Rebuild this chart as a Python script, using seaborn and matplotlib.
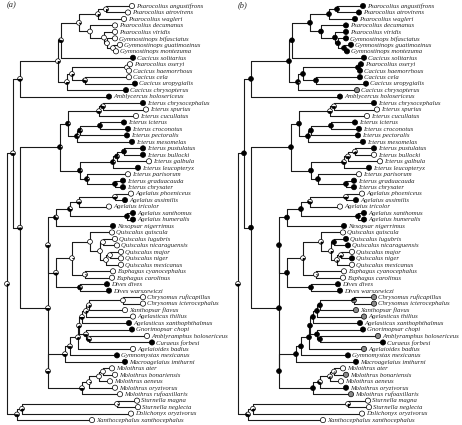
import numpy as np
import pandas as pd
import seaborn as sns
import matplotlib.pyplot as plt
from matplotlib.patches import Wedge
from matplotlib.transforms import ScaledTranslation

sns.set_style("white")
plt.rcParams["font.family"] = ["Liberation Serif", "DejaVu Serif"]

# tip names, top to bottom
tips = [
    "Psarocolius angustifrons", "Psarocolius atrovirens", "Psarocolius wagleri",
    "Psarocolius decumanus", "Psarocolius viridis", "Gymnostinops bifasciatus",
    "Gymnostinops guatimozinus", "Gymnostinops montezuma", "Cacicus solitarius",
    "Psarocolius oseryi", "Cacicus haemorrhous", "Cacicus cela", "Cacicus uropygialis",
    "Cacicus chrysopterus", "Amblycercus holosericeus", "Icterus chrysocephalus",
    "Icterus spurius", "Icterus cucullatus", "Icterus icterus", "Icterus croconotus",
    "Icterus pectoralis", "Icterus mesomelas", "Icterus pustulatus", "Icterus bullocki",
    "Icterus galbula", "Icterus leucopteryx", "Icterus parisorum", "Icterus graduacauda",
    "Icterus chrysater", "Agelaius phoeniceus", "Agelaius assimilis", "Agelaius tricolor",
    "Agelaius xanthomus", "Agelaius humeralis", "Nesopsar nigerrimus", "Quiscalus quiscula",
    "Quiscalus lugubris", "Quiscalus nicaraguensis", "Quiscalus major", "Quiscalus niger",
    "Quiscalus mexicanus", "Euphagus cyanocephalus", "Euphagus carolinus", "Dives dives",
    "Dives warszewiczi", "Chrysomus ruficapillus", "Chrysomus icterocephalus",
    "Xanthopsar flavus", "Agelasticus thilius", "Agelasticus xanthophthalmus",
    "Gnorimopsar chopi", "Amblyramphus holosericeus", "Curaeus forbesi",
    "Agelaioides badius", "Gymnomystax mexicanus", "Macroagelaius imthurni",
    "Molothrus ater", "Molothrus bonariensis", "Molothrus aeneus", "Molothrus oryzivorus",
    "Molothrus rufoaxillaris", "Sturnella magna", "Sturnella neglecta",
    "Dolichonyx oryzivorus", "Xanthocephalus xanthocephalus",
]

# tip depth (branch length scale of the figure)
tip_x = [132, 128, 124, 115, 115, 115, 120, 116, 133, 130, 129, 129, 135, 126, 109,
         143, 146, 136, 124, 128, 127, 132, 143, 143, 149, 138, 128, 123, 123, 131,
         125, 109, 133, 133, 113, 112, 115, 117, 121, 121, 121, 113, 112, 107, 109,
         143, 143, 125, 133, 129, 132, 147, 152, 133, 117, 125, 112, 115, 110, 115,
         120, 137, 138, 131, 92]

# tip states: 0 absent, 1 present, 2 grey
state_a = [0, 0, 0, 0, 0, 0, 0, 0, 1, 0, 0, 0, 1, 1, 1, 1, 0, 0, 1, 1, 1, 1, 1, 1, 0,
           1, 0, 1, 1, 0, 1, 0, 1, 1, 1, 0, 0, 0, 0, 0, 0, 0, 0, 1, 1, 0, 0, 0, 0, 1,
           1, 0, 1, 0, 1, 1, 0, 0, 0, 0, 0, 0, 0, 0, 0]
state_b = [1, 1, 1, 1, 1, 1, 1, 1, 1, 1, 1, 1, 1, 2, 1, 1, 0, 0, 1, 1, 1, 1, 1, 0, 0,
           1, 0, 1, 1, 0, 1, 0, 1, 1, 1, 0, 1, 1, 0, 1, 0, 0, 0, 1, 1, 2, 2, 2, 2, 1,
           1, 2, 1, 2, 1, 1, 0, 2, 0, 1, 2, 0, 0, 0, 0]

# internal nodes (children listed before parents)
node_names = ["P1", "P2", "G1", "G2", "G3", "G4", "P3", "A1", "C1", "C2", "C3", "C4",
              "A2", "A3", "I1", "I2", "I3", "I4", "I5", "I6", "I7", "I8", "I9", "I10",
              "I11", "I12", "I13", "E1", "E2", "E3", "E4", "E5", "Q1", "Q2", "Q3", "Q4",
              "Q5", "Q6", "Q7", "Q8", "Q9", "B1", "H1", "H2", "H3", "H4", "H5", "H6",
              "H7", "H8", "H9", "H10", "M1", "M2", "M3", "M4", "B2", "B3", "B4", "B5",
              "S1", "S2", "S3", "root"]
node_kids = [(0, 1), ("P1", 2), (6, 7), (5, "G1"), (4, "G2"), (3, "G3"), ("P2", "G4"),
             ("P3", 8), (9, 10), (11, 12), ("C1", "C2"), ("C3", 13), ("A1", "C4"),
             ("A2", 14), (15, 16), ("I1", 17), (18, 19), ("I3", 20), ("I4", 21),
             ("I2", "I5"), (22, 23), ("I7", 24), ("I8", 25), (27, 28), (26, "I10"),
             ("I9", "I11"), ("I6", "I12"), (29, 30), ("E1", 31), (32, 33), ("E2", "E3"),
             ("E4", 34), (36, 37), (38, 39), ("Q2", 40), ("Q1", "Q3"), (35, "Q4"),
             (41, 42), ("Q5", "Q6"), (43, 44), ("Q7", "Q8"), ("E5", "Q9"), (45, 46),
             ("H1", 47), ("H2", 48), ("H3", 49), (51, 52), (50, "H5"), ("H4", "H6"),
             ("H7", 53), ("H8", 54), ("H9", 55), (56, 57), ("M1", 58), ("M2", 59),
             ("M3", 60), ("H10", "M4"), ("B1", "B2"), ("I13", "B3"), ("A3", "B4"),
             (61, 62), ("S1", 63), ("S2", 64), ("B5", "S3")]
node_x = [106, 98, 113, 107, 104, 90, 79, 61, 127, 85, 72, 67, 58, 20,
          103, 99, 100, 80, 77, 68, 124, 117, 113, 115, 87, 80, 60,
          115, 79, 127, 70, 56, 103, 110, 106, 100, 90, 85, 72, 80, 56, 48,
          123, 89, 86, 82, 89, 86, 79, 78, 70, 65, 103, 99, 89, 82, 48, 48, 20, 13,
          117, 22, 17, 7]

# ancestral state pies: fraction black (and grey for panel b)
black_a = [.25, .3, 0, 0, 0, 0, .15, .6, 0, .6, .3, .4, .3, .5,
           .6, .5, 1, .9, .85, .9, 1, .9, .9, 1, .9, .9, .9,
           .5, .5, 1, .7, .7, 0, 0, 0, 0, 0, .1, .1, .8, .5, .5,
           0, .3, .3, .5, .6, .5, .4, .4, .5, .5, 0, 0, .1, .5, .5, .5, .5, .5,
           .1, .4, .5, .3]
black_b = [1, 1, 1, 1, 1, 1, 1, 1, 1, 1, 1, .9, 1, 1,
           .5, .5, 1, 1, 1, 1, .4, .5, .6, 1, 1, 1, 1,
           .5, .6, 1, 1, 1, 1, .3, .2, .3, .3, .1, .3, 1, 1, 1,
           .6, 1, 1, 1, 1, 1, 1, 1, 1, 1, 0, .2, .5, 1, 1, 1, 1, 1,
           .3, .4, .6, .5]
grey_b = [0, 0, 0, 0, 0, 0, 0, 0, 0, 0, 0, .1, 0, 0,
          0, 0, 0, 0, 0, 0, 0, 0, 0, 0, 0, 0, 0,
          0, 0, 0, 0, 0, 0, .1, .1, 0, 0, 0, 0, 0, 0, 0,
          .4, 0, 0, 0, 0, 0, 0, 0, 0, 0, .3, .2, .1, 0, 0, 0, 0, 0,
          0, 0, 0, 0]

state_names = {0: "absent", 1: "present", 2: "grey"}
tip_palette = {"absent": "white", "present": "black", "grey": "#8a8a8a"}
line_col = "#1a1a1a"
pie_r = 0.024  # inches


def draw_pie(fig, ax, x, y, fb, fg):
    trans = fig.dpi_scale_trans + ScaledTranslation(x, y, ax.transData)
    fw = max(0.0, 1 - fb - fg)
    start = 0.0
    for frac, col in [(fw, "white"), (fb, "black"), (fg, "#8a8a8a")]:
        if frac <= 0:
            continue
        ax.add_patch(Wedge((0, 0), pie_r, start, start + 360 * frac, facecolor=col,
                           edgecolor="none", transform=trans, zorder=4))
        start += 360 * frac
    ax.add_patch(plt.Circle((0, 0), pie_r, facecolor="none", edgecolor="black",
                            lw=0.5, transform=trans, zorder=5))


def draw_tree(fig, ax, states, black, grey, tag):
    ypos = {i: float(i) for i in range(len(tips))}
    xpos = {i: float(tip_x[i]) for i in range(len(tips))}
    for name, (c1, c2), x in zip(node_names, node_kids, node_x):
        ypos[name] = (ypos[c1] + ypos[c2]) / 2
        xpos[name] = x
        ax.plot([x, x], [ypos[c1], ypos[c2]], color=line_col, lw=0.8, zorder=1)
        for c in (c1, c2):
            ax.plot([x, xpos[c]], [ypos[c], ypos[c]], color=line_col, lw=0.8, zorder=1)

    for name, fb, fg in zip(node_names, black, grey):
        draw_pie(fig, ax, xpos[name], ypos[name], fb, fg)

    df = pd.DataFrame({"x": tip_x, "y": np.arange(len(tips)),
                       "state": [state_names[s] for s in states]})
    sns.scatterplot(data=df, x="x", y="y", hue="state", palette=tip_palette,
                    s=14, edgecolor="black", linewidth=0.5, legend=False,
                    ax=ax, zorder=6)
    for i, name in enumerate(tips):
        ax.text(tip_x[i] + 4, i + 0.05, name, fontsize=4.9, style="italic",
                ha="left", va="center")
    ax.text(7, -0.2, tag, fontsize=6, style="italic", ha="left", va="center")

    ax.set_xlim(0, 231)
    ax.set_ylim(64.76, -0.93)
    ax.axis("off")


fig = plt.figure(figsize=(4.62, 4.25), dpi=100)
ax_a = fig.add_axes([0, 0, 0.5, 1])
ax_b = fig.add_axes([0.5, 0, 0.5, 1])
draw_tree(fig, ax_a, state_a, black_a, [0] * len(node_names), "(a)")
draw_tree(fig, ax_b, state_b, black_b, grey_b, "(b)")

fig.savefig("out.png", dpi=100)
